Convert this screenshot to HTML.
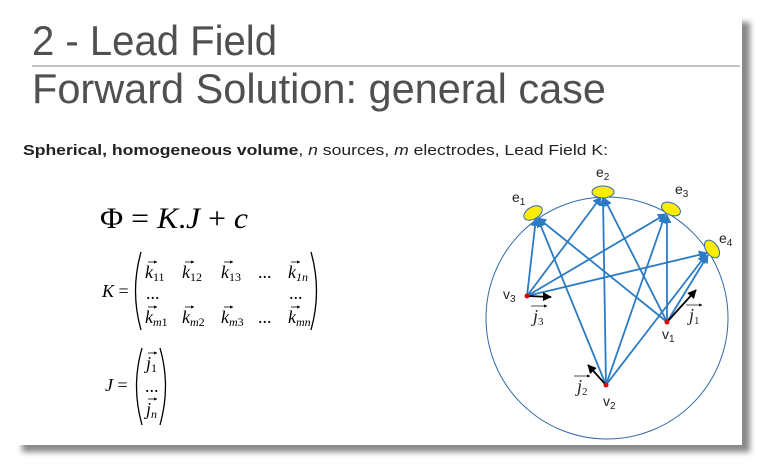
<!DOCTYPE html>
<html><head><meta charset="utf-8"><style>
html,body{margin:0;padding:0;background:#fff;}
svg{display:block;}
text{font-family:"Liberation Sans",sans-serif;}
.s{font-family:"Liberation Serif",serif;font-style:italic;}
.r{font-family:"Liberation Serif",serif;}
</style></head><body>
<svg width="759" height="464" viewBox="0 0 759 464">
<defs>
<filter id="sh" x="-5%" y="-5%" width="115%" height="115%"><feGaussianBlur stdDeviation="3"/></filter>
<marker id="ab" viewBox="0 0 10 10" refX="9" refY="5" markerWidth="5" markerHeight="5" orient="auto"><path d="M0,0L10,5L0,10z" fill="#2a7bc4"/></marker>
<marker id="ak" viewBox="0 0 10 10" refX="9" refY="5" markerWidth="5" markerHeight="5" orient="auto"><path d="M0,0L10,5L0,10z" fill="#000"/></marker>
<marker id="as" viewBox="0 0 10 10" refX="9" refY="5" markerWidth="4" markerHeight="4" orient="auto"><path d="M0,0L10,5L0,10z" fill="#000"/></marker>
</defs>
<rect x="22" y="22" width="728" height="430" fill="#888" filter="url(#sh)"/>
<rect x="17" y="17" width="725" height="428" fill="#fff"/>
<text x="32" y="55" font-size="42" fill="#505050" textLength="245" lengthAdjust="spacingAndGlyphs">2 - Lead Field</text>
<line x1="32" y1="66" x2="740" y2="66" stroke="#888" stroke-width="1"/>
<text x="32" y="103" font-size="42" fill="#505050" textLength="574" lengthAdjust="spacingAndGlyphs">Forward Solution: general case</text>
<text x="23" y="155" font-size="15" fill="#222" textLength="585" lengthAdjust="spacingAndGlyphs"><tspan font-weight="bold">Spherical, homogeneous volume</tspan>, <tspan font-style="italic">n</tspan> sources, <tspan font-style="italic">m</tspan> electrodes, Lead Field K:</text>

<g>
<text x="100" y="228" font-size="30" class="r" textLength="148" lengthAdjust="spacingAndGlyphs">Φ = <tspan font-style="italic">K</tspan>.<tspan font-style="italic">J</tspan> + <tspan font-style="italic">c</tspan></text>
</g>
<g font-size="18">
<text x="102" y="297" class="s">K <tspan font-style="normal">=</tspan></text>
<path d="M141,252 Q130,291 141,330" fill="none" stroke="#000" stroke-width="1.3"/>
<path d="M311,252 Q322,291 311,330" fill="none" stroke="#000" stroke-width="1.3"/>
<text x="145" y="278" class="s">k<tspan font-size="12" font-style="normal" dy="3">11</tspan></text>
<text x="182" y="278" class="s">k<tspan font-size="12" font-style="normal" dy="3">12</tspan></text>
<text x="221" y="278" class="s">k<tspan font-size="12" font-style="normal" dy="3">13</tspan></text>
<text x="258" y="278" class="r">...</text>
<text x="288" y="278" class="s">k<tspan font-size="12" dy="3">1n</tspan></text>
<text x="146" y="299" class="r">...</text>
<text x="289" y="299" class="r">...</text>
<text x="145" y="323" class="s">k<tspan font-size="12" dy="3">m</tspan><tspan font-size="12" font-style="normal">1</tspan></text>
<text x="182" y="323" class="s">k<tspan font-size="12" dy="3">m</tspan><tspan font-size="12" font-style="normal">2</tspan></text>
<text x="221" y="323" class="s">k<tspan font-size="12" dy="3">m</tspan><tspan font-size="12" font-style="normal">3</tspan></text>
<text x="258" y="323" class="r">...</text>
<text x="288" y="323" class="s">k<tspan font-size="12" dy="3">mn</tspan></text>
<g stroke="#000" stroke-width="0.8" marker-end="url(#as)">
<line x1="148" y1="262" x2="157" y2="262"/><line x1="185" y1="262" x2="194" y2="262"/><line x1="224" y1="262" x2="233" y2="262"/><line x1="291" y1="262" x2="300" y2="262"/>
<line x1="148" y1="307" x2="157" y2="307"/><line x1="185" y1="307" x2="194" y2="307"/><line x1="224" y1="307" x2="233" y2="307"/><line x1="291" y1="307" x2="300" y2="307"/>
</g>
</g>
<g font-size="18">
<text x="105" y="391" class="s">J <tspan font-style="normal">=</tspan></text>
<path d="M142,348 Q131,386 142,425" fill="none" stroke="#000" stroke-width="1.3"/>
<path d="M160,348 Q171,386 160,425" fill="none" stroke="#000" stroke-width="1.3"/>
<text x="146" y="369" class="s">j<tspan font-size="12" font-style="normal" dy="3">1</tspan></text>
<text x="145" y="392" class="r">...</text>
<text x="146" y="415" class="s">j<tspan font-size="12" dy="3">n</tspan></text>
<g stroke="#000" stroke-width="0.8" marker-end="url(#as)"><line x1="148" y1="353" x2="157" y2="353"/><line x1="148" y1="399" x2="157" y2="399"/></g>
</g>

<g>
<ellipse cx="607" cy="318" rx="121" ry="121" fill="none" stroke="#2e6aa8" stroke-width="1"/>
<g stroke="#2a7bc4" stroke-width="1.8" marker-end="url(#ab)">
<line x1="527" y1="296" x2="536" y2="218"/><line x1="527" y1="296" x2="601" y2="197"/><line x1="527" y1="296" x2="666" y2="214"/><line x1="527" y1="296" x2="707" y2="253"/>
<line x1="667" y1="322" x2="538" y2="218"/><line x1="667" y1="322" x2="604" y2="198"/><line x1="667" y1="322" x2="667" y2="215"/><line x1="667" y1="322" x2="708" y2="255"/>
<line x1="606" y1="385" x2="538" y2="219"/><line x1="606" y1="385" x2="603" y2="198"/><line x1="606" y1="385" x2="665" y2="215"/><line x1="606" y1="385" x2="706" y2="255"/>
</g>
<g fill="#ffed00" stroke="#2e6aa8" stroke-width="1">
<ellipse cx="533" cy="213" rx="10" ry="6" transform="rotate(-30 533 213)"/>
<ellipse cx="603" cy="192" rx="11" ry="6"/>
<ellipse cx="671" cy="209" rx="10" ry="6" transform="rotate(25 671 209)"/>
<ellipse cx="712" cy="249" rx="10" ry="6" transform="rotate(55 712 249)"/>
</g>
<g stroke="#000" stroke-width="1.8" marker-end="url(#ak)">
<line x1="527" y1="296" x2="551" y2="297"/><line x1="667" y1="322" x2="696" y2="290"/><line x1="606" y1="385" x2="588" y2="365"/>
</g>
<g fill="#e00000"><circle cx="527" cy="296" r="2.5"/><circle cx="667" cy="322" r="2.5"/><circle cx="606" cy="385" r="2.5"/></g>
<g font-size="14" fill="#222">
<text x="512" y="202">e<tspan font-size="10" dy="3">1</tspan></text>
<text x="596" y="177">e<tspan font-size="10" dy="3">2</tspan></text>
<text x="675" y="194">e<tspan font-size="10" dy="3">3</tspan></text>
<text x="719" y="243">e<tspan font-size="10" dy="3">4</tspan></text>
<text x="503" y="299">v<tspan font-size="10" dy="3">3</tspan></text>
<text x="662" y="339">v<tspan font-size="10" dy="3">1</tspan></text>
<text x="603" y="406">v<tspan font-size="10" dy="3">2</tspan></text>
<text x="533" y="322" class="s" font-size="18">j<tspan font-size="11" font-style="normal" dy="3">3</tspan></text>
<text x="689" y="321" class="s" font-size="18">j<tspan font-size="11" font-style="normal" dy="3">1</tspan></text>
<text x="577" y="392" class="s" font-size="18">j<tspan font-size="11" font-style="normal" dy="3">2</tspan></text>
</g>
<g stroke="#222" stroke-width="0.8" marker-end="url(#as)">
<line x1="531" y1="306" x2="547" y2="306"/><line x1="686" y1="305" x2="702" y2="305"/><line x1="574" y1="376" x2="590" y2="376"/>
</g>
</g>
</svg>
</body></html>
